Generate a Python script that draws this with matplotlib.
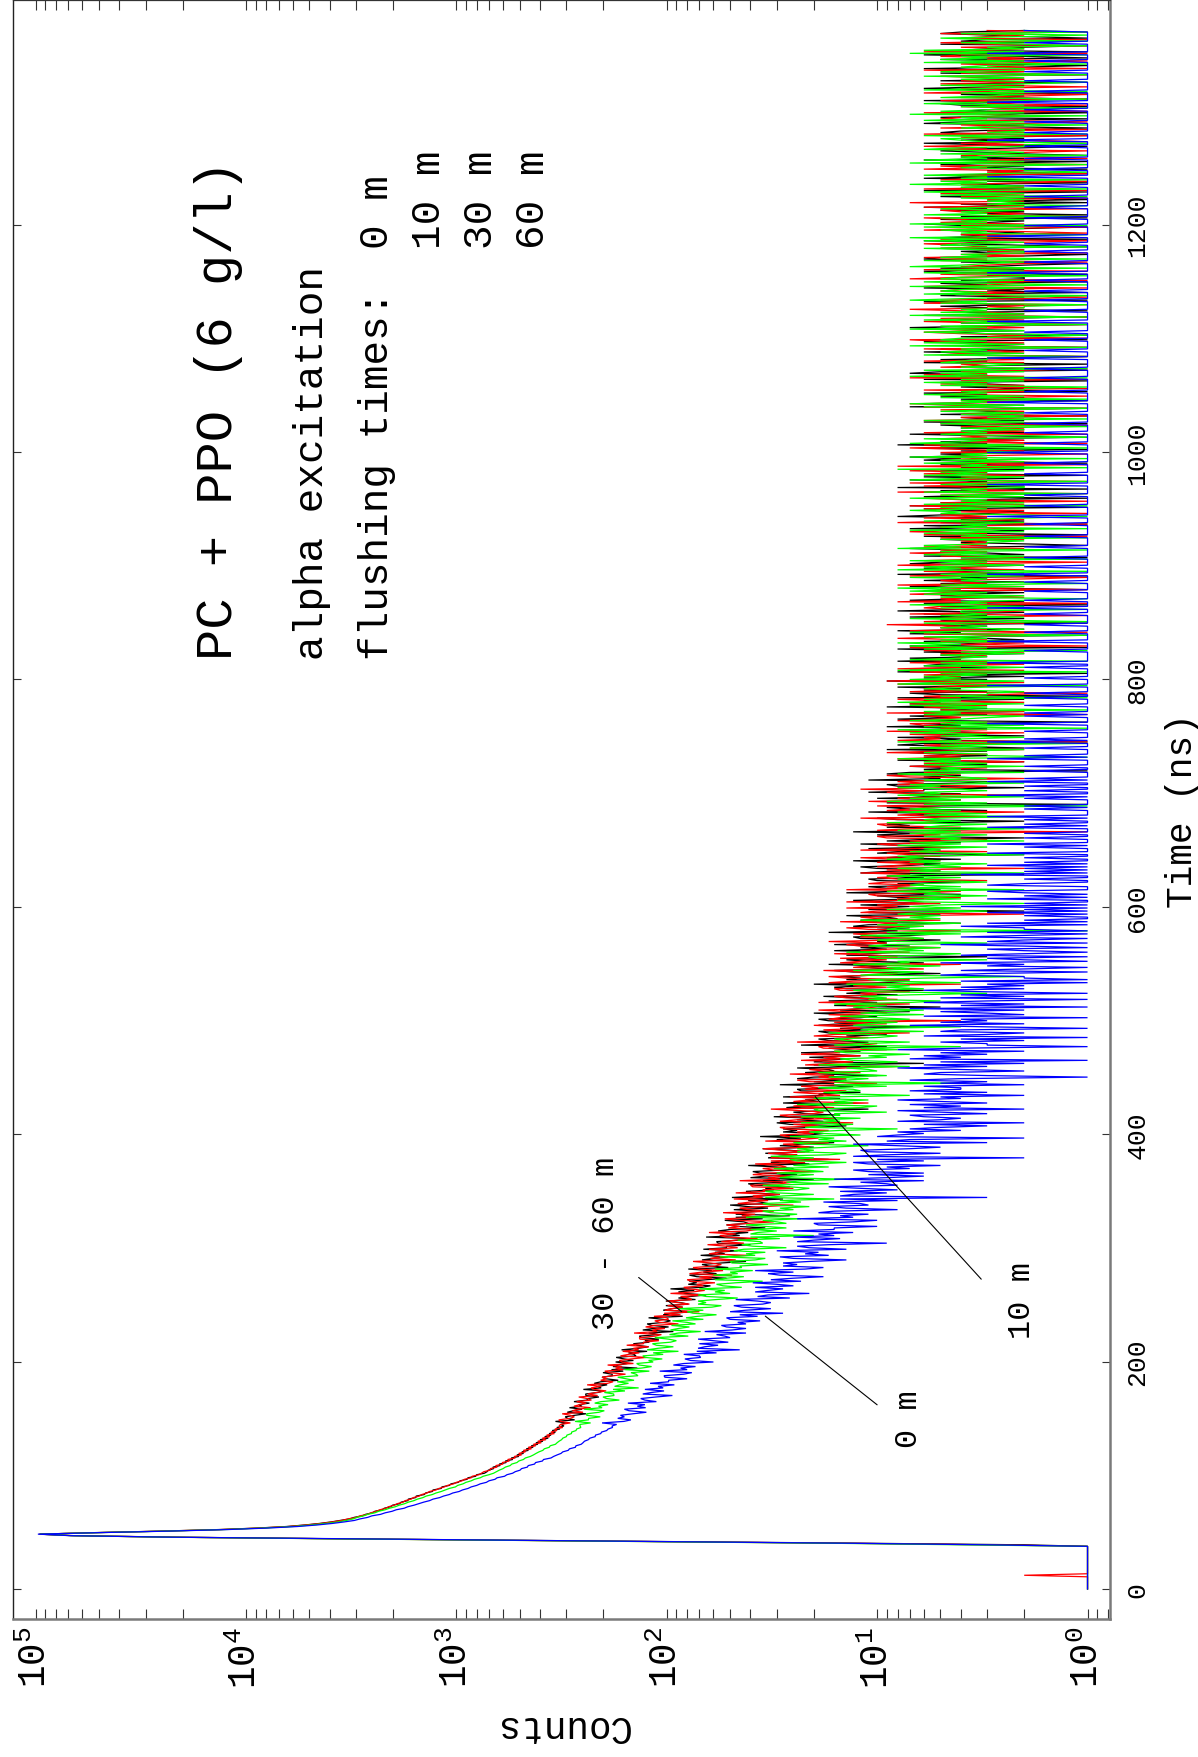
import numpy as np
import matplotlib
matplotlib.use("Agg")
import matplotlib.pyplot as plt
from matplotlib.ticker import FixedLocator, LogLocator, NullFormatter

plt.rcParams.update({
    "font.family": ["Liberation Mono", "DejaVu Sans Mono"],
    "mathtext.fontset": "custom",
    "mathtext.rm": "Liberation Mono",
    "mathtext.it": "Liberation Mono",
    "mathtext.bf": "Liberation Mono",
})

W, H = 1198, 1758
BIN_NS = 1.34          # width of one time channel (ns)

# ---------------------------------------------------------------------------
# Decay-time histograms (counts per channel), one per flushing time.
# Head: explicit channel contents; tail: one digit per channel.
# ---------------------------------------------------------------------------
counts_60m_head = [
    0, 0, 0, 0, 0, 0, 0, 0, 0, 2, 0, 0, 0, 0, 0, 0, 0, 0, 0, 0, 0, 0, 0, 0, 0, 0, 0, 0,
    1, 3, 14, 92, 608, 4120, 22300, 66800, 96200,
    50800, 24600, 13150, 8640, 6290, 5180, 4390, 3890, 3500,
    3270, 2990, 2870, 2640, 2550, 2400, 2310, 2160, 2100, 1970,
    1910, 1790, 1750, 1640, 1600, 1500, 1460, 1380, 1340, 1250,
    1210, 1140, 1100, 1030, 1000, 940, 915, 850, 840, 780, 760,
    740, 690, 690, 640, 650, 600, 605, 560, 570, 525, 530,
    490, 505, 470, 480, 440, 455, 420, 430, 395,
    410, 375, 390, 360, 372, 342, 355, 333, 340, 312, 325,
    320, 287, 319, 326, 288, 275, 287, 314, 250, 281, 264, 230, 276, 259, 241,
    268, 228, 238, 262, 213, 237, 216, 194, 222, 229, 205, 239, 191, 180, 206,
    193, 203, 179, 157, 188, 197, 161, 175, 163, 191, 144, 163, 168, 148, 125,
    166, 152, 135, 162, 136, 144, 122, 155, 129, 129, 109,
    134, 135, 113, 106, 143, 111, 117, 102, 126, 115, 88, 108,
    114, 98, 100, 115, 86, 103, 70, 102, 95, 84, 99, 78, 89, 100, 76,
    79, 86, 67, 96, 75, 66, 79, 83, 67, 72, 59, 77, 80, 61, 70, 49, 78, 68,
    54, 70, 75, 59, 55, 62, 75, 47, 62, 56, 41, 63, 57, 50, 63, 46, 52, 64, 43,
    55, 47, 37, 52, 56, 47, 63, 42, 37, 51, 45, 52, 41, 31, 47, 53, 36, 44, 38, 54, 31, 41,
    45, 35, 25, 46, 40, 33, 48, 35, 39, 29, 47, 34, 35, 25, 39, 40, 29, 25, 45, 29, 33, 26, 39,
    34, 20, 31, 35, 27, 29, 38, 22, 32, 15, 32, 29, 24, 33, 21, 28, 35, 21, 24, 28, 17, 34, 23, 19, 27, 29,
    20, 24, 17, 27, 29, 19, 25, 13, 29, 24, 16, 26, 29, 20, 18, 23, 32, 16, 25, 21, 11, 25, 21, 17, 26,
    15, 19, 25, 14, 22,
    19, 23, 16, 10, 21, 24, 14, 19, 16, 26, 12, 18, 21, 14, 8, 22, 17, 13, 23, 15, 18, 12, 23, 15, 16,
    9, 18, 19, 12,
    10, 24, 13, 15, 11, 20, 16, 7, 15, 18, 12, 14, 20, 9, 16, 4, 17, 15, 11, 17, 9, 14, 19, 10, 11,
    14, 7, 19, 12, 8, 14, 16, 10, 12, 7, 15, 16, 9,
    13, 4, 17, 13, 7, 14, 17, 10, 8, 12, 18, 6, 13, 11, 4, 15, 12, 9, 15, 8, 10, 16, 7, 12, 9,
    5, 12, 14, 9, 17, 8, 6, 12, 10, 13, 8, 4, 11, 14, 6, 10, 8, 15, 5, 10,
    12, 7, 2, 12, 10, 6, 14, 8, 10, 5, 14, 8, 8, 4, 10, 11, 6, 4, 14, 7, 9, 6, 11, 9, 3,
    8, 10, 7, 7, 12, 5, 9, 2, 10, 8, 6, 10, 5, 8, 12, 5, 7, 9, 3,
    12, 7, 4, 8, 10, 5, 7, 3, 9, 10, 5, 7, 1, 10, 7, 4, 9, 10, 6, 5, 7, 12, 3, 8, 6,
    2, 9, 7, 5, 10, 4, 6, 11, 4, 8, 5, 2, 7, 9, 6, 12, 4, 3, 8, 6, 8, 5, 2, 7, 9, 4, 6, 5,
]
counts_60m_tail = (
    "5374625846 3952746318 5647293546 7385461925 4637258463 1746538294 5463728452 7364 "
    "4352637142 5384261735 4926354173 2465318452 3746152834 5217436253 8416325473 52634 "
    "3425163742 5318426351 4263725146 3518243627 1534263742 8152436315 2473614253 4162 "
    "3241536241 4325163724 2315426132 5341726342 1534262315 4236143257 1324635241 "
    "3625142347 2316452134 2541632317 4253162432 1536241325 3462153241 2631425346 "
    "1324516237 "
    "2314253162 3421532413 2635142312 4321536241 2341623152 4213542361 3241325142 "
    "1632413524 2351426132 4213254163 2413521432 513"
)

counts_30m_head = [
    0, 0, 0, 0, 0, 0, 0, 0, 0, 0, 0, 0, 0, 0, 0, 0, 0, 0, 0, 0, 0, 0, 0, 0, 0, 0, 0, 0,
    1, 2, 11, 78, 560, 3900, 21500, 65500, 95400,
    52300, 25100, 13500, 8810, 6420, 5260, 4480, 3940, 3560,
    3220, 3060, 2800, 2700, 2500, 2440, 2250, 2200, 2050, 2010,
    1860, 1830, 1700, 1690, 1560, 1550, 1420, 1400, 1300, 1290,
    1180, 1170, 1080, 1060, 980, 960, 890, 880, 810, 800, 735,
    715, 705, 665, 670, 620, 625, 580, 585, 540, 548, 505,
    515, 480, 488, 455, 465, 432, 440, 410, 418,
    388, 400, 366, 380, 355, 362, 338, 350, 322, 333, 308,
    318, 301, 338, 274, 296, 304, 274, 242, 297, 278, 253, 290, 253, 262, 233,
    276, 239, 238, 210, 242, 243, 212, 200, 249, 205, 212, 192, 221, 206, 170,
    195, 203, 181, 182, 201, 161, 183, 138, 180, 170, 154, 175, 144, 159, 174,
    140, 143, 152, 124, 164, 136, 122, 139, 144, 121, 127,
    109, 132, 135, 110, 122, 93, 130, 116, 98, 118, 124, 103,
    96, 104, 122, 84, 104, 95, 75, 104, 94, 84, 101, 79, 86, 101, 73,
    88, 77, 65, 82, 88, 74, 96, 68, 62, 79, 72, 78, 65, 52, 72, 78, 58, 67,
    61, 79, 51, 63, 68, 55, 42, 68, 60, 51, 69, 53, 59, 46, 67, 52, 52, 40, 57,
    58, 45, 40, 65, 45, 50, 41, 57, 50, 34, 46, 52, 41, 43, 53, 35, 47, 26, 47, 44, 36, 48,
    33, 41, 50, 33, 36, 41, 28, 49, 35, 29, 39, 42, 31, 34, 26, 38, 41, 28, 35, 20, 40, 34, 24,
    36, 39, 28, 25, 30, 41, 21, 32, 28, 17, 33, 29, 24, 34, 22, 26, 35, 20, 29, 23, 16, 27, 30, 23, 36, 21,
    18, 28, 24, 28, 21, 14, 26, 30, 18, 24, 20, 31, 15, 22, 25, 18, 11, 27, 22, 17, 28, 19, 22, 15, 28,
    18, 19, 12, 23, 24,
    16, 13, 29, 16, 20, 14, 24, 20, 10, 18, 22, 16, 17, 24, 12, 20, 6, 20, 18, 14, 21, 12, 17, 23, 12,
    14, 17, 9, 23,
    14, 11, 17, 19, 12, 14, 9, 17, 19, 11, 15, 6, 19, 15, 9, 17, 19, 12, 10, 14, 20, 7, 15, 12, 5,
    16, 13, 10, 17, 9, 12, 18, 8, 14, 11, 6, 14, 16,
    11, 20, 9, 7, 14, 12, 15, 10, 5, 13, 16, 8, 12, 9, 17, 6, 11, 14, 9, 3, 14, 11, 8, 16, 9,
    12, 7, 16, 9, 10, 5, 12, 13, 7, 5, 17, 8, 10, 7, 13, 11, 4, 10, 12, 8,
    9, 14, 5, 11, 2, 11, 10, 7, 12, 6, 9, 13, 6, 8, 10, 4, 14, 8, 5, 9, 11, 6, 8, 4, 10,
    11, 6, 9, 2, 12, 9, 5, 10, 12, 7, 5, 8, 13, 4, 9, 7, 2, 10, 8,
    5, 11, 5, 7, 12, 4, 9, 6, 2, 8, 10, 6, 13, 5, 3, 9, 7, 9, 5, 2, 8, 10, 4, 7, 5,
    11, 3, 7, 9, 5, 1, 9, 7, 4, 10, 5, 7, 4, 11, 6, 6, 2, 8, 9, 4, 3, 11, 5, 6, 4, 9, 7, 1,
]
counts_30m_tail = (
    "6473528463 5739248615 4826357394 6158473625 3947562815 7364825493 6251847365 2847 "
    "3526481734 6235174825 3614527362 8435162743 5426137452 6341825364 2753416235 47312 "
    "4352614327 3615243853 2461735241 6324518234 3726143524 2513647352 4162835241 3724 "
    "2435162341 5234172631 4253613242 3516243751 2431635214 3625142361 2413524731 "
    "4253162413 3524613254 1326435142 2314625321 4365213425 1243615342 3521463251 "
    "4132536241 "
    "3125341624 2413263512 3142531624 1235421362 4231354213 2643152314 3214526132 "
    "4123632415 2341523621 3425126314 3215243123 542"
)

counts_10m_head = [
    0, 0, 0, 0, 0, 0, 0, 0, 0, 0, 0, 0, 0, 0, 0, 0, 0, 0, 0, 0, 0, 0, 0, 0, 0, 0, 0, 0,
    1, 4, 16, 95, 640, 4300, 23000, 67500, 95800,
    50200, 23800, 12700, 8300, 6000, 4900, 4180, 3640, 3330,
    3100, 2960, 2760, 2640, 2440, 2340, 2180, 2080, 1950, 1870,
    1760, 1690, 1590, 1530, 1440, 1390, 1300, 1250, 1180, 1130,
    1080, 1010, 985, 930, 900, 850, 820, 770, 745, 700, 665,
    645, 625, 600, 585, 555, 545, 515, 505, 480, 470, 445,
    430, 418, 405, 388, 382, 362, 358, 338, 332,
    325, 316, 312, 300, 298, 284, 283, 270, 268, 256, 258,
    259, 230, 273, 236, 235, 207, 240, 240, 210, 198, 247, 203, 211, 190, 220,
    205, 168, 193, 201, 178, 179, 198, 158, 180, 136, 177, 167, 152, 172, 143,
    156, 171, 137, 140, 148, 121, 159, 132, 118, 135, 139, 116, 122, 105, 127,
    130, 104, 116, 88, 124, 110, 93, 112, 117, 96, 90,
    98, 114, 79, 97, 88, 69, 96, 88, 78, 95, 73, 80,
    94, 67, 81, 71, 58, 75, 80, 67, 88, 61, 55, 71, 65, 71, 58,
    46, 65, 71, 50, 59, 53, 70, 44, 54, 58, 47, 35, 59, 52, 43, 60, 46, 50,
    39, 59, 44, 45, 33, 49, 50, 38, 34, 56, 38, 42, 34, 48, 43, 27, 39, 44, 35,
    36, 46, 29, 40, 20, 40, 37, 30, 40, 27, 34, 42, 27, 30, 35, 23, 42, 29, 24, 32, 35, 25,
    29, 21, 32, 35, 23, 29, 16, 34, 28, 20, 30, 34, 24, 21, 26, 35, 17, 27, 23, 14, 29, 25, 20,
    30, 18, 22, 31, 17, 25, 20, 14, 24, 26, 20, 32, 17, 14, 24, 20, 24, 17, 11, 22, 25, 14, 19, 16, 26, 12,
    18, 21, 15, 8, 22, 18, 13, 23, 15, 18, 12, 23, 15, 16, 9, 19, 20, 12, 10, 24, 13, 16, 11, 20, 16,
    7, 14, 18, 12, 13,
    19, 9, 16, 4, 16, 14, 11, 17, 9, 13, 19, 10, 11, 14, 7, 19, 11, 8, 13, 15, 9, 11, 7, 14, 16,
    8, 12, 4, 16,
    12, 7, 14, 16, 10, 8, 11, 17, 6, 12, 10, 4, 13, 11, 8, 14, 7, 10, 15, 6, 12, 9, 6, 11, 13,
    9, 16, 7, 5, 11, 9, 12, 7, 3, 10, 13, 6, 9,
    7, 14, 4, 9, 11, 6, 2, 12, 9, 6, 13, 7, 9, 5, 13, 7, 8, 3, 10, 11, 6, 4, 14, 6, 8,
    5, 11, 9, 3, 8, 10, 6, 7, 12, 4, 9, 1, 9, 8, 6, 10, 4, 8, 12, 5,
]
counts_10m_tail = (
    "7586394752 6847365928 4763584962 7584637596 8247 "
    "5638472546 3748265394 6526384751 6394728563 4857246345 826 "
    "4526364813 3642735184 4253748162 5374326461 5372846153 3246318527 4635184263 5174 "
    "3524163748 2536147325 3461372534 4152734215 2637482513 4372531846 2537142635 18463 "
    "3251436271 5342632125 4735162437 2516342253 1742635281 4362517342 3315274361 2534 "
    "2413526132 4253162734 1526342215 3624173526 1432543316 2534172635 4213627351 "
    "4263172534 2215374216 3542713625 4136251743 2615342236 1542637214 3526173425 "
    "1634253132 "
    "3241526314 2735142631 2243172634 1523642213 4526132243 1526341725 3142632153 "
    "2416325213 4261352243 1625341726 2312413521 412"
)

counts_0m_head = [
    0, 0, 0, 0, 0, 0, 0, 0, 0, 0, 0, 0, 0, 0, 0, 0, 0, 0, 0, 0, 0, 0, 0, 0, 0, 0, 0, 0,
    1, 3, 13, 86, 590, 4000, 22600, 68400, 97500,
    49500, 23000, 12300, 7900, 5700, 4600, 3900, 3420, 3050,
    2870, 2640, 2520, 2290, 2180, 2020, 1930, 1770, 1700, 1590,
    1510, 1430, 1340, 1290, 1200, 1150, 1080, 1040, 970, 935,
    880, 850, 800, 770, 720, 700, 655, 640, 590, 575, 540,
    525, 498, 490, 460, 455, 425, 420, 390, 385, 355, 345,
    332, 318, 312, 294, 290, 272, 270, 255, 250,
    246, 236, 232, 219, 218, 206, 204, 193, 190, 181, 182,
    173, 203, 160, 148, 171, 159, 166, 145, 125, 151, 159, 126, 138, 127, 153,
    112, 127, 133, 113, 94, 130, 118, 103, 127, 104, 110, 92, 120, 98, 98,
    80, 102, 103, 83, 76, 108, 80, 86, 73, 93, 83, 60, 77, 82, 69,
    70, 83, 58, 72, 45, 71, 66, 57, 70, 51, 60,
    71, 50, 53, 58, 42, 66, 49, 42, 52, 55, 42, 46,
    36, 50, 52, 37, 45, 28, 50, 42, 32, 44, 48, 35, 32, 37, 47,
    26, 37, 33, 21, 38, 33, 28, 38, 25, 30, 39, 23, 32, 25, 18, 29, 33, 25,
    38, 22, 18, 28, 24, 28, 21, 14, 25, 29, 17, 22, 19, 30, 14, 21, 24, 17, 9,
    24, 20, 15, 25, 16, 19, 13, 25, 16, 16, 10, 19, 20, 13, 10, 24, 13, 15, 11, 19, 16, 8,
    14, 17, 11, 12, 18, 8, 15, 3, 15, 13, 9, 15, 8, 12, 17, 8, 9, 12, 6, 16, 9, 6, 11,
    6, 11, 13, 7, 9, 5, 11, 13, 6, 10, 2, 13, 9, 5, 11, 12, 7, 5, 8, 13, 3, 9, 7, 2, 10, 8,
]
counts_0m_tail = (
    "6847536285 4673582647 3584526374 4625374136 5248362517 463528413 "
    "3524163254 1372534162 3527142631 52413624 "
    "2314122531 4213250231 4212302513 2142031224 13021 "
    "1203121402 1131202311 0321120141 2021302112 0131 "
    "1021310120 1211031201 2130110212 0110213012 1021031201 102 "
    "0120110302 1001210130 2011020110 3100120210 1020110201 2010031010 2101100210 3010 "
    "1001201010 3100102011 0201000120 1030100210 0102010012 0101300102 0011020100 10201 "
    "0101200100 1020100301 0010201001 0201001030 1000120100 1020010103 0010020100 1020 "
    "0100201010 0210010030 1001020100 1001201000 2010010300 1020100102 0010201001 "
    "0300100120 1001020010 0210010020 1003010010 2010010200 1020100301 0010201002 "
    "0100102010 "
    "1002010010 2001003010 0201001020 1001002010 3001020100 1020010010 2010030010 "
    "0120100102 0010020100 1020010301 0010200100 102"
)


def channel_counts(head, tail):
    """Join the explicit head channels with the one-digit-per-channel tail."""
    return np.array(list(head) + [int(ch) for ch in tail if ch.isdigit()], dtype=float)


flushing_labels = ["30 m", "60 m", "10 m", "0 m"]
series_counts = [
    channel_counts(counts_30m_head, counts_30m_tail),
    channel_counts(counts_60m_head, counts_60m_tail),
    channel_counts(counts_10m_head, counts_10m_tail),
    channel_counts(counts_0m_head, counts_0m_tail),
]
series_colors = ["black", "#ff0000", "#00ff00", "#0000ff"]

count_ticks = [1, 10, 100, 1000, 10000, 100000]
count_tick_labels = [r"$10^{%d}$" % k for k in range(6)]
time_ticks = [0, 200, 400, 600, 800, 1000, 1200]
time_tick_labels = [str(t) for t in time_ticks]


def fig_xy(px, py):
    """Pixel position (origin top-left) -> figure fraction."""
    return px / W, 1.0 - py / H


fig = plt.figure(figsize=(W / 100, H / 100), dpi=100)
ax_left, ax_right, ax_top, ax_bottom = 13, 1110, 0.6, 1620
ax = fig.add_axes([ax_left / W, 1 - ax_bottom / H,
                   (ax_right - ax_left) / W, (ax_bottom - ax_top) / H])

# empty channels are drawn on the lowest decade
for counts, color in zip(series_counts, series_colors):
    t = np.arange(len(counts)) * BIN_NS
    ax.plot(np.maximum(counts, 1.0), t, color=color, lw=0.9, solid_joinstyle="miter")

ax.set_xscale("log")
ax.set_xlim(1.28e5, 0.782)
ax.set_ylim(-26.4, 1398)

# counts axis (horizontal, decreasing to the right)
ax.xaxis.set_major_locator(FixedLocator(count_ticks))
ax.set_xticklabels(count_tick_labels, rotation=90, fontsize=27)
ax.xaxis.set_minor_locator(LogLocator(base=10, subs=np.arange(2, 10), numticks=20))
ax.xaxis.set_minor_formatter(NullFormatter())
ax.tick_params(axis="x", which="both", direction="in", length=7.2, width=0.8,
               color="#333333", top=True, bottom=True, pad=5)

# time axis (vertical, labels on the right)
ax.set_yticks(time_ticks, time_tick_labels, rotation=90, va="center", fontsize=19)
ax.tick_params(axis="y", which="major", direction="in", length=5.8, width=0.8,
               color="#333333", left=True, right=True, labelleft=False,
               labelright=True, pad=11)

for side, col, lw in [("left", "#222222", 1.0), ("top", "#333333", 0.9),
                      ("right", "#7a7a7a", 1.8), ("bottom", "#7a7a7a", 1.8)]:
    ax.spines[side].set_color(col)
    ax.spines[side].set_linewidth(lw)

ax.set_xlabel("Counts", rotation=180, fontsize=27, va="center", ha="center")
ax.xaxis.set_label_coords(0.5, -0.0654)
ax.yaxis.set_label_position("right")
ax.set_ylabel("Time (ns)", rotation=90, fontsize=26, va="center", ha="center")
ax.yaxis.set_label_coords(1.0657, 0.5)

# header text block
text_kw = dict(rotation=90, rotation_mode="anchor", ha="left", va="baseline",
               transform=fig.transFigure, color="black")
fig.text(*fig_xy(232, 660), "PC + PPO (6 g/l)", fontsize=37.5, **text_kw)
fig.text(*fig_xy(323, 660), "alpha excitation", fontsize=29.5, **text_kw)
fig.text(*fig_xy(388, 660), "flushing times:", fontsize=29.5, **text_kw)
for i, lab in enumerate(["0 m", "10 m", "30 m", "60 m"]):
    fig.text(*fig_xy(388 + 52 * i, 249), lab, fontsize=29.5, **text_kw)

# curve labels with pointer lines (counts, time)
pointers = [
    ("30 - 60 m", (178, 228.6), (136, 274), (85, 244)),
    ("0 m", (6.47, 124.8), (10.0, 162), (34, 240)),
    ("10 m", (1.88, 220.7), (3.2, 272.5), (19.7, 433)),
]
for label, text_pos, line_start, line_end in pointers:
    ax.annotate("", xy=line_end, xytext=line_start, xycoords="data",
                arrowprops=dict(arrowstyle="-", lw=0.8, color="black",
                                shrinkA=0, shrinkB=0))
    ax.text(*text_pos, label, rotation=90, rotation_mode="anchor", ha="left",
            va="baseline", fontsize=23, color="black")

fig.savefig("out.png", dpi=100)
